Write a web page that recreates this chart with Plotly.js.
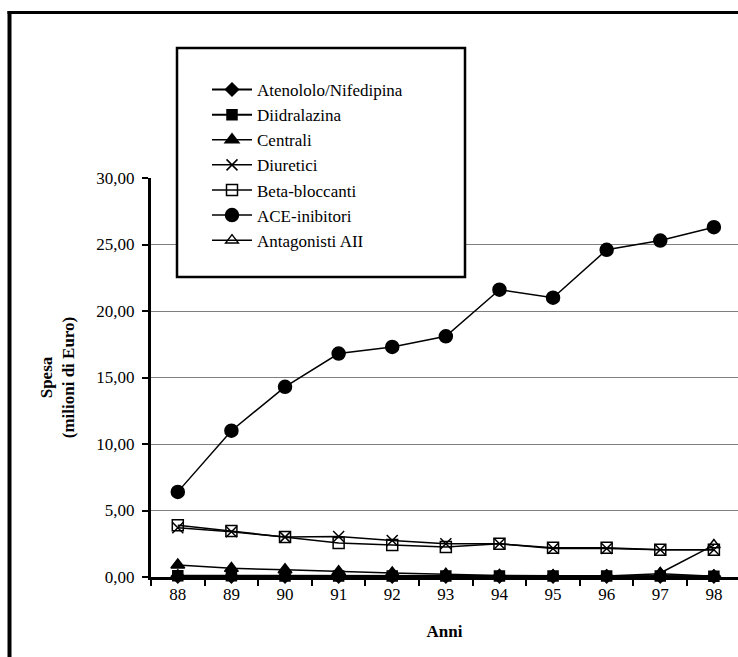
<!DOCTYPE html>
<html>
<head>
<meta charset="utf-8">
<script src="https://cdn.plot.ly/plotly-3.0.1.min.js"></script>
<style>
html,body{margin:0;padding:0;background:#fff;}
#chart{width:738px;height:657px;}
</style>
</head>
<body>
<div id="chart"></div>
<script>
// Data
var years = ["88","89","90","91","92","93","94","95","96","97","98"];
var seriesNames = ["Atenololo/Nifedipina","Diidralazina","Centrali","Diuretici","Beta-bloccanti","ACE-inibitori","Antagonisti AII"];
var atenololo   = [0.05,0.05,0.05,0.05,0.05,0.05,0.05,0.05,0.05,0.05,0.05];
var diidralazina= [0.10,0.10,0.08,0.08,0.08,0.08,0.08,0.08,0.08,0.08,0.05];
var centrali    = [0.90,0.65,0.55,0.40,0.30,0.20,0.12,0.10,0.08,0.25,0.05];
var diuretici   = [3.70,3.40,3.00,3.05,2.75,2.50,2.50,2.15,2.15,2.05,2.05];
var betaBloccanti=[3.90,3.45,3.00,2.55,2.40,2.25,2.50,2.20,2.20,2.05,2.05];
var aceInibitori= [6.40,11.00,14.30,16.80,17.30,18.10,21.60,21.00,24.60,25.30,26.30];
var antagonisti = [null,null,null,null,null,null,null,null,null,0.30,2.40];
var yTicks = [0,5,10,15,20,25,30];

var serif = "Liberation Serif";

function tr(name, y, symbol, size, rank, lw) {
  return {
    type: "scatter", mode: "lines+markers", name: name, x: years, y: y,
    line: {color: "#000", width: lw || 1.5},
    marker: {symbol: symbol, size: size, color: "#000", line: {color: "#000", width: 1.5}},
    legendrank: rank, cliponaxis: false
  };
}

var data = [
  tr(seriesNames[6], antagonisti, "triangle-up-open", 11, 7),
  tr(seriesNames[0], atenololo, "diamond", 10, 1, 2),
  tr(seriesNames[1], diidralazina, "square", 10, 2, 2),
  tr(seriesNames[2], centrali, "triangle-up", 12, 3),
  tr(seriesNames[3], diuretici, "x-thin-open", 11, 4),
  tr(seriesNames[4], betaBloccanti, "square-open", 11, 5),
  tr(seriesNames[5], aceInibitori, "circle", 13, 6)
];

function px(x){ return (x-151)/587; }
function py(y){ return (577-y)/399; }

var layout = {
  width: 738, height: 657,
  margin: {l: 151, r: 0, t: 178, b: 80},
  paper_bgcolor: "#fff", plot_bgcolor: "#fff",
  separators: ",.",
  font: {family: serif, size: 17, color: "#000"},
  showlegend: true,
  legend: {
    x: px(207), y: py(72), xanchor: "left", yanchor: "top",
    bgcolor: "rgba(0,0,0,0)", borderwidth: 0,
    font: {family: serif, size: 17, color: "#000"},
    traceorder: "normal", itemwidth: 40
  },
  xaxis: {
    type: "category", range: [-0.5, 10.45],
    showline: true, linecolor: "#000", linewidth: 3,
    ticks: "outside", tickson: "boundaries", ticklen: 6, tickwidth: 2, tickcolor: "#000",
    showgrid: false, zeroline: false, fixedrange: true,
    tickfont: {family: serif, size: 17, color: "#000"},
    title: {text: "<b>Anni</b>", font: {family: serif, size: 17, color: "#000"}, standoff: 22}
  },
  yaxis: {
    range: [0, 30], tickvals: yTicks, tickformat: ".2f",
    showline: true, linecolor: "#000", linewidth: 3,
    ticks: "outside", ticklen: 6, tickwidth: 2, tickcolor: "#000",
    showgrid: true, gridcolor: "#7f7f7f", gridwidth: 1,
    zeroline: false, fixedrange: true, ticklabelstandoff: 4,
    tickfont: {family: serif, size: 17, color: "#000"},
    title: {text: "<b>Spesa<br>(milioni di Euro)</b>", font: {family: serif, size: 17, color: "#000"}, standoff: 18}
  },
  shapes: [
    {type: "rect", xref: "paper", yref: "paper", x0: px(177), x1: px(465), y0: py(277), y1: py(48),
     line: {color: "#000", width: 2.5}, fillcolor: "#fff", layer: "above"},
    {type: "line", xref: "paper", yref: "paper", x0: px(9.5), x1: px(9.5), y0: py(11), y1: py(670),
     line: {color: "#000", width: 4}},
    {type: "line", xref: "paper", yref: "paper", x0: px(7.5), x1: px(745), y0: py(12.5), y1: py(12.5),
     line: {color: "#000", width: 3}}
  ]
};

Plotly.newPlot("chart", data, layout, {displayModeBar: false, staticPlot: true});
</script>
</body>
</html>
